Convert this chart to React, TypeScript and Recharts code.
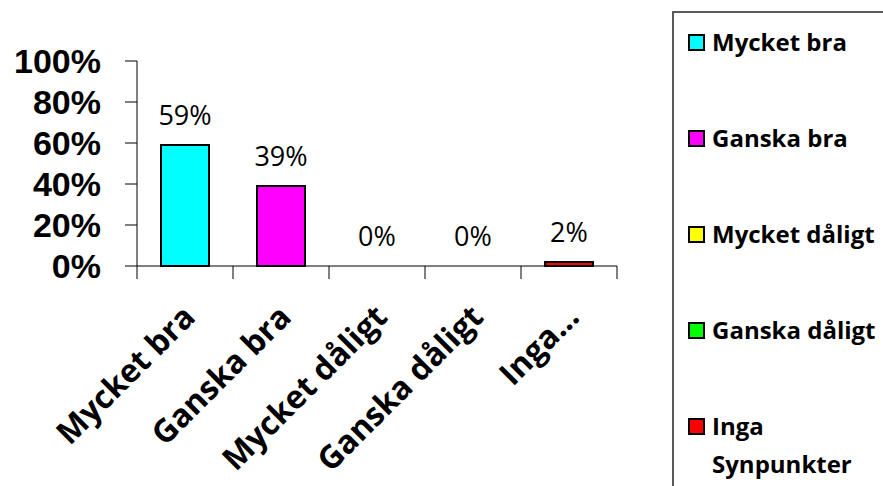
import React from 'react';
import { ComposedChart, Bar, Line, XAxis, YAxis, Cell, Legend } from 'recharts';

const categories = ['Mycket bra', 'Ganska bra', 'Mycket dåligt', 'Ganska dåligt', 'Inga...'];
const legendLabels = ['Mycket bra', 'Ganska bra', 'Mycket dåligt', 'Ganska dåligt', 'Inga Synpunkter'];
const values = [59, 39, 0, 0, 2];
const colors = ['#00FFFF', '#FF00FF', '#FFFF00', '#00FF00', '#FF0000'];
const yTicks = [0, 20, 40, 60, 80, 100];

const data = categories.map((name, i) => ({ name, value: values[i] }));

const W = 883;
const H = 486;
const MARGIN = { top: 61, right: 266, bottom: 0, left: 0 };
const Y_AXIS_W = 137;
const X_AXIS_H = 220;
const PLOT_W = W - MARGIN.left - MARGIN.right - Y_AXIS_W;
const BAND = PLOT_W / categories.length;
const FONT = '"Open Sans", "DejaVu Sans", sans-serif';
const Y_FONT = '"Liberation Sans", Arial, sans-serif';

function XTick(props: any) {
  const { x, y, payload, index } = props;
  const half = BAND / 2;
  const tx = x + 12;
  const ty = y + 53;
  const isLast = index === categories.length - 1;
  return (
    <g>
      <line x1={x - half} y1={y} x2={x - half} y2={y + 13} stroke="#000" strokeWidth={1} />
      {isLast && <line x1={x + half} y1={y} x2={x + half} y2={y + 13} stroke="#000" strokeWidth={1} />}
      <text
        x={tx}
        y={ty}
        transform={`rotate(-45, ${tx}, ${ty})`}
        textAnchor="end"
        fontSize={32}
        fontWeight="bold"
        fontFamily={FONT}
        fill="#000"
      >
        {payload.value}
      </text>
    </g>
  );
}

function ValueLabel(props: any) {
  const { x, y, value } = props;
  if (x == null || y == null) return null;
  return (
    <text x={x} y={y - 20} textAnchor="middle" fontSize={27} fontFamily={FONT} fill="#000">
      {`${value}%`}
    </text>
  );
}

function LegendBox() {
  return (
    <div
      style={{
        width: '100%',
        height: '100%',
        boxSizing: 'border-box',
        borderLeft: '2px solid #595959',
        borderTop: '2px solid #595959',
        paddingTop: 10,
        paddingLeft: 14,
        fontFamily: FONT,
        background: '#fff',
      }}
    >
      {legendLabels.map((label, i) => (
        <div key={label} style={{ display: 'flex', alignItems: 'flex-start', height: 96 }}>
          <div style={{ height: 38, display: 'flex', alignItems: 'center' }}>
            <div
              style={{
                width: 13,
                height: 13,
                border: '2px solid #000',
                background: colors[i],
              }}
            />
          </div>
          <div
            style={{
              marginLeft: 7,
              width: 168,
              fontSize: 24,
              fontWeight: 'bold',
              lineHeight: '38px',
              color: '#000',
            }}
          >
            {label}
          </div>
        </div>
      ))}
    </div>
  );
}

export default function App() {
  return (
    <div style={{ position: 'absolute', left: 0, top: 0, width: W, height: H, background: '#fff' }}>
      <ComposedChart width={W} height={H} data={data} margin={MARGIN} barCategoryGap="25%">
        <XAxis
          dataKey="name"
          height={X_AXIS_H}
          interval={0}
          tickLine={false}
          tickSize={0}
          tickMargin={0}
          axisLine={{ stroke: '#000', strokeWidth: 1 }}
          tick={<XTick />}
        />
        <YAxis
          width={Y_AXIS_W}
          domain={[0, 100]}
          ticks={yTicks}
          interval={0}
          tickFormatter={(v: number) => `${v}%`}
          tickSize={12}
          tickMargin={24}
          axisLine={{ stroke: '#000', strokeWidth: 1 }}
          tickLine={{ stroke: '#000', strokeWidth: 1 }}
          tick={{ fontSize: 34, fontWeight: 'bold', fill: '#000', fontFamily: Y_FONT }}
        />
        <Legend
          layout="vertical"
          align="center"
          verticalAlign="middle"
          wrapperStyle={{ left: 672, top: 11, width: 211, height: 475 }}
          content={() => <LegendBox />}
        />
        <Bar dataKey="value" stroke="#000" strokeWidth={2} isAnimationActive={false}>
          {data.map((d, i) => (
            <Cell key={d.name} fill={colors[i]} />
          ))}
        </Bar>
        <Line
          dataKey="value"
          stroke="none"
          dot={false}
          activeDot={false}
          legendType="none"
          isAnimationActive={false}
          label={<ValueLabel />}
        />
      </ComposedChart>
    </div>
  );
}
